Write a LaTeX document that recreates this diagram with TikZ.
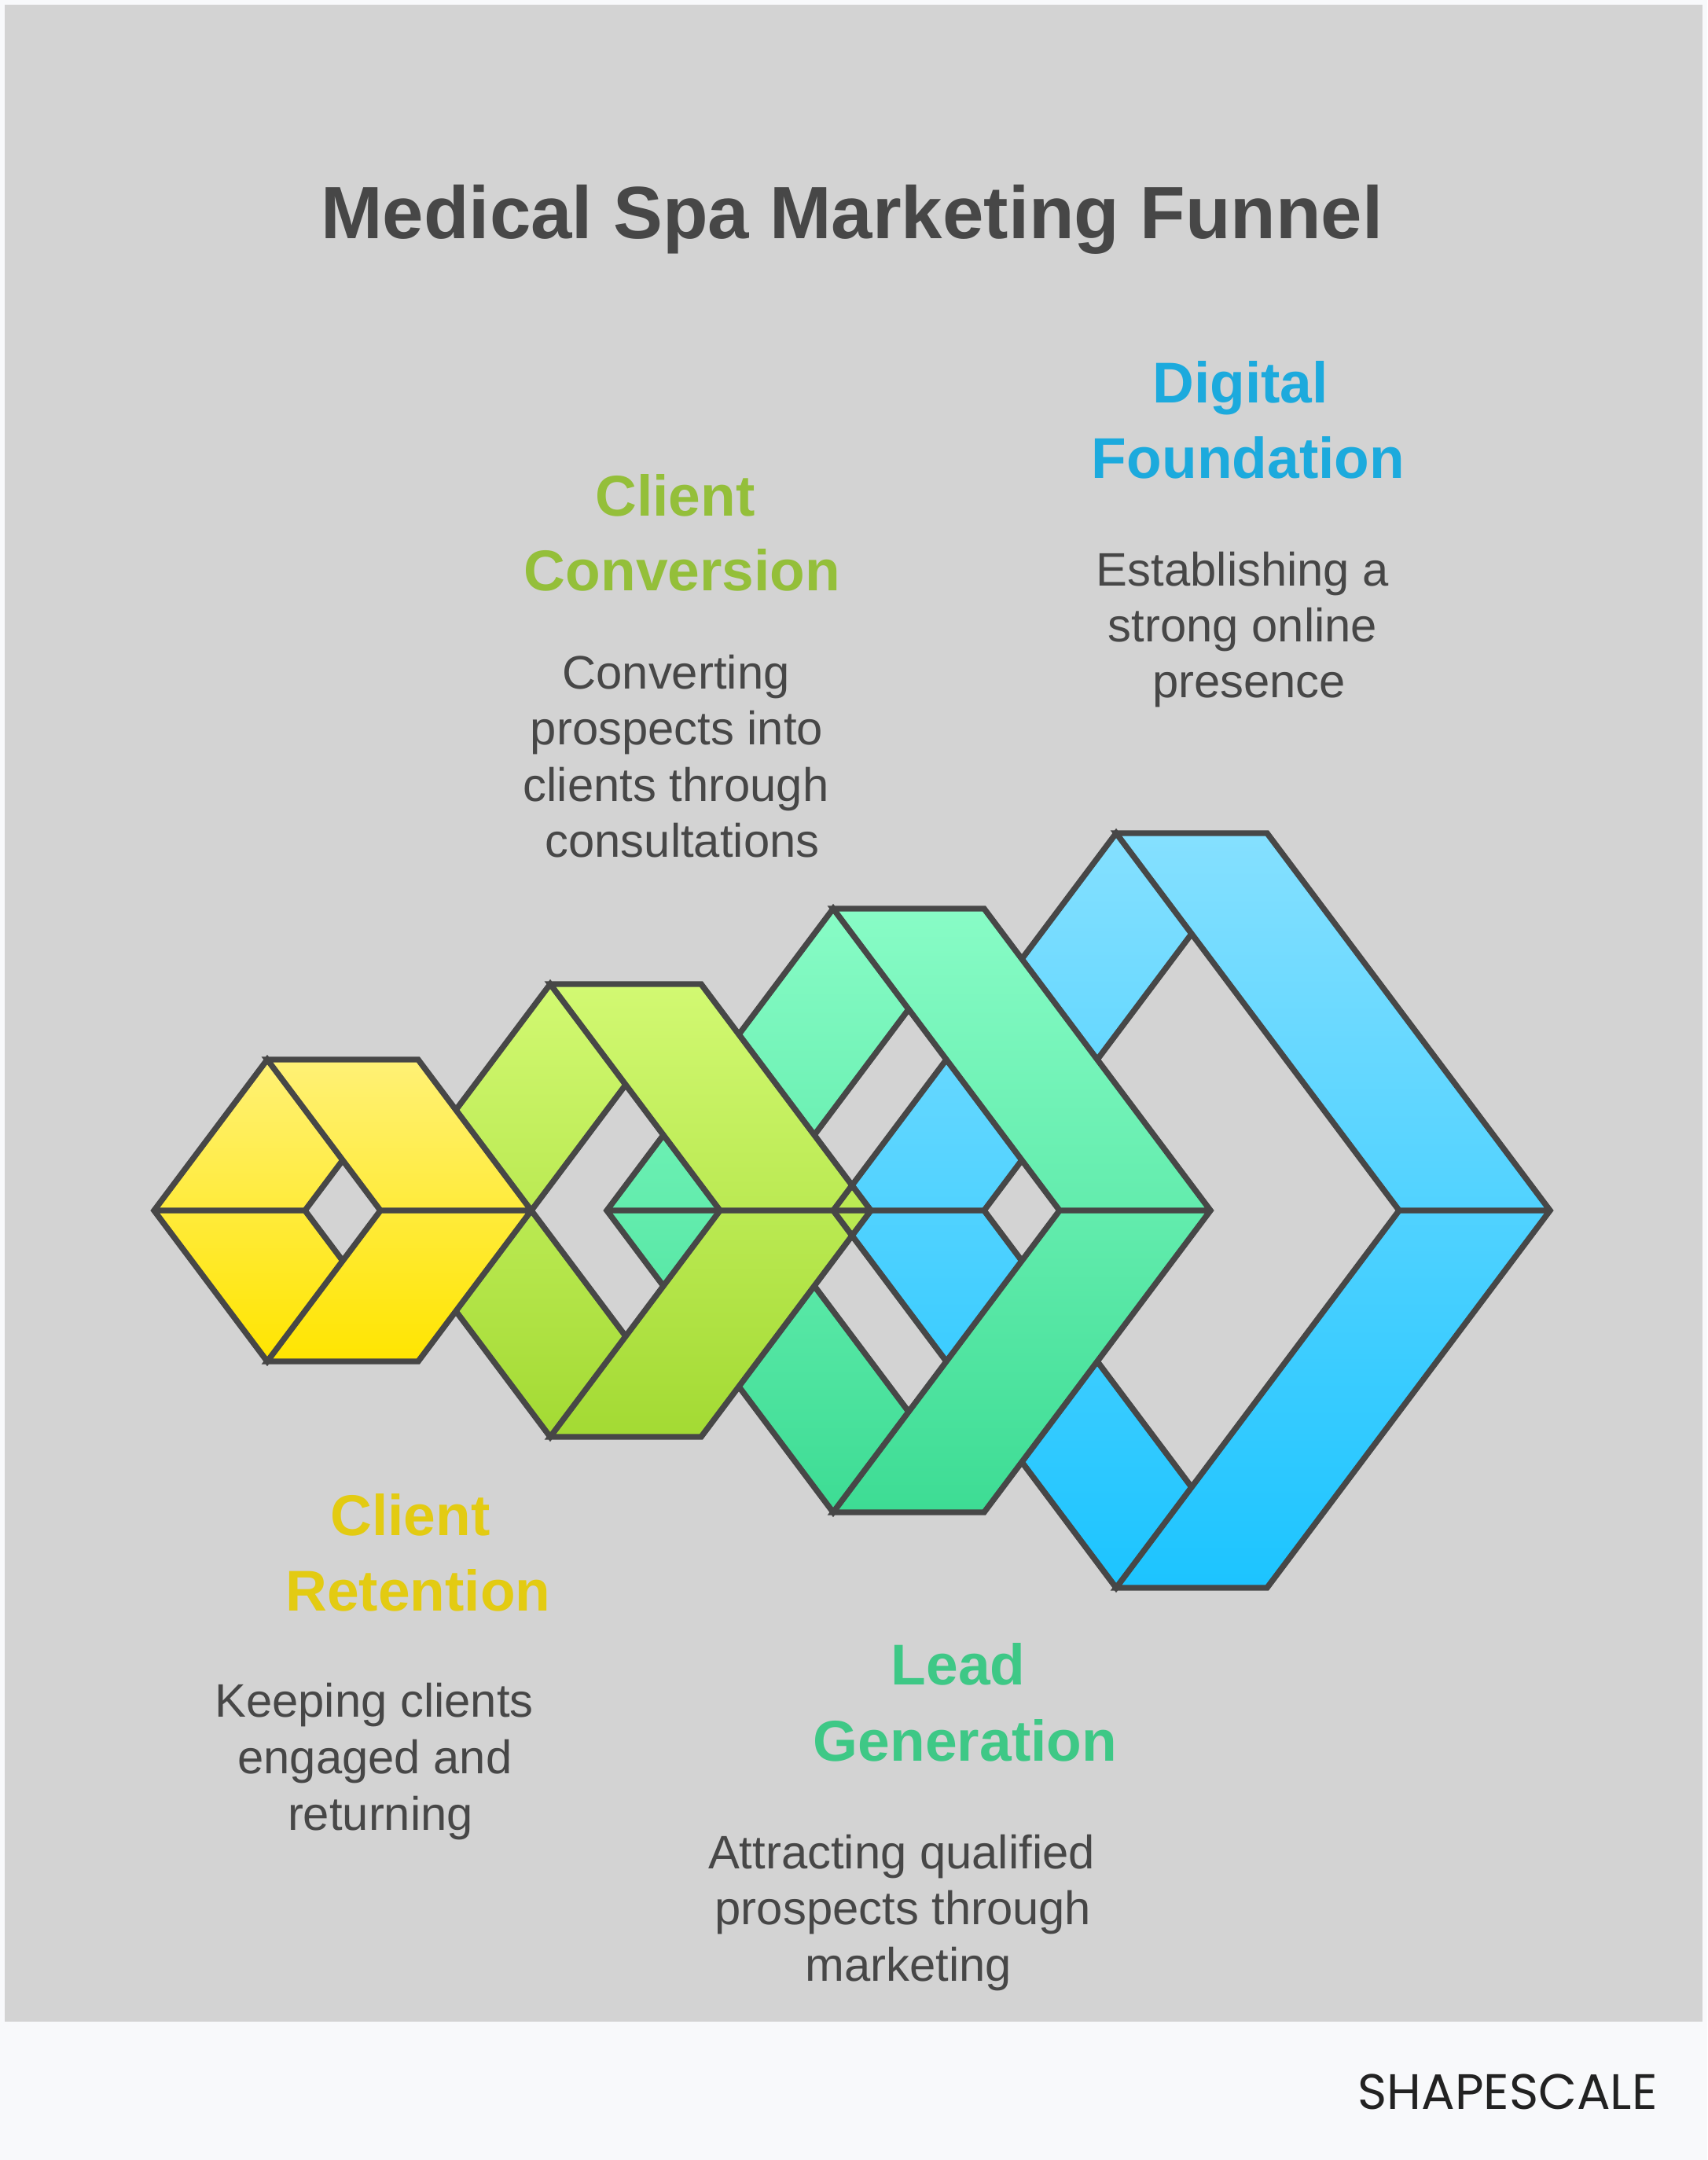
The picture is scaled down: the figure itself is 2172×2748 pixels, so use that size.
\documentclass[tikz,border=0pt]{standalone}
\usepackage{fontspec}
\setmainfont{Liberation Sans}
\newfontfamily\brandfont{Poppins}
\usepackage{tikz}
\definecolor{pagebg}{HTML}{F8F9FB}
\definecolor{panelgray}{HTML}{D3D3D3}
\definecolor{inkgray}{HTML}{474747}
\definecolor{brandink}{HTML}{222222}
\definecolor{yellowtop}{HTML}{FFF176}
\definecolor{yellowbot}{HTML}{FFE500}
\definecolor{limetop}{HTML}{D2F972}
\definecolor{limebot}{HTML}{A3DA33}
\definecolor{tealtop}{HTML}{88FCC6}
\definecolor{tealbot}{HTML}{3DDC94}
\definecolor{bluetop}{HTML}{85E0FF}
\definecolor{bluebot}{HTML}{1CC4FF}
\definecolor{yellowhead}{HTML}{E3CB12}
\definecolor{limehead}{HTML}{94BF3A}
\definecolor{greenhead}{HTML}{3EC886}
\definecolor{bluehead}{HTML}{1CAADD}
\tikzset{
  bandline/.style={draw=inkgray, line width=0.074cm, line join=miter},
  titletext/.style={font=\fontsize{26.8}{32}\selectfont\bfseries, text=inkgray, anchor=base, inner sep=0pt},
  headtext/.style={font=\fontsize{20.8}{25}\selectfont\bfseries, anchor=base, inner sep=0pt},
  bodytext/.style={font=\fontsize{17}{20}\selectfont, text=inkgray, anchor=base, inner sep=0pt},
}

\begin{document}
\begin{tikzpicture}[x=0.01cm, y=-0.01cm]
        \useasboundingbox (0,0) rectangle (2172,2748);
        \fill[pagebg] (0,0) rectangle (2172,2748);
        \fill[panelgray] (6,6) rectangle (2166,2572);

        \shade[top color=bluetop, bottom color=bluebot]
          (1060,1540) -- (1420,1060) -- (1516,1188) -- (1252,1540) -- (1516,1892) -- (1420,2020) -- cycle
          (1420,1060) -- (1612,1060) -- (1972,1540) -- (1612,2020) -- (1420,2020) -- (1780,1540) -- cycle;
        \draw[bandline]
          (1060,1540) -- (1420,1060) -- (1516,1188) -- (1252,1540) -- (1516,1892) -- (1420,2020) -- cycle
          (1420,1060) -- (1612,1060) -- (1972,1540) -- (1612,2020) -- (1420,2020) -- (1780,1540) -- cycle
          (1060,1540) -- (1252,1540) (1780,1540) -- (1972,1540);

        \shade[top color=tealtop, bottom color=tealbot]
          (772,1540) -- (1060,1156) -- (1156,1284) -- (964,1540) -- (1156,1796) -- (1060,1924) -- cycle
          (1060,1156) -- (1252,1156) -- (1540,1540) -- (1252,1924) -- (1060,1924) -- (1348,1540) -- cycle;
        \draw[bandline]
          (772,1540) -- (1060,1156) -- (1156,1284) -- (964,1540) -- (1156,1796) -- (1060,1924) -- cycle
          (1060,1156) -- (1252,1156) -- (1540,1540) -- (1252,1924) -- (1060,1924) -- (1348,1540) -- cycle
          (772,1540) -- (964,1540) (1348,1540) -- (1540,1540);

        \shade[top color=limetop, bottom color=limebot]
          (484,1540) -- (700,1252) -- (796,1380) -- (676,1540) -- (796,1700) -- (700,1828) -- cycle
          (700,1252) -- (892,1252) -- (1108,1540) -- (892,1828) -- (700,1828) -- (916,1540) -- cycle;
        \draw[bandline]
          (484,1540) -- (700,1252) -- (796,1380) -- (676,1540) -- (796,1700) -- (700,1828) -- cycle
          (700,1252) -- (892,1252) -- (1108,1540) -- (892,1828) -- (700,1828) -- (916,1540) -- cycle
          (484,1540) -- (676,1540) (916,1540) -- (1108,1540);

        \shade[top color=yellowtop, bottom color=yellowbot]
          (196,1540) -- (340,1348) -- (436,1476) -- (388,1540) -- (436,1604) -- (340,1732) -- cycle
          (340,1348) -- (532,1348) -- (676,1540) -- (532,1732) -- (340,1732) -- (484,1540) -- cycle;
        \draw[bandline]
          (196,1540) -- (340,1348) -- (436,1476) -- (388,1540) -- (436,1604) -- (340,1732) -- cycle
          (340,1348) -- (532,1348) -- (676,1540) -- (532,1732) -- (340,1732) -- (484,1540) -- cycle
          (196,1540) -- (388,1540) (484,1540) -- (676,1540);

        \coordinate (bluetipA) at (1084,1508);
        \coordinate (bluetipB) at (1084,1572);
        \draw[bandline] (bluetipA) -- (1060,1540) -- (bluetipB);

        \node[titletext] (title) at (1084,303) {Medical Spa Marketing Funnel};

        \node[headtext, text=bluehead] (digitalA) at (1578,512) {Digital};
        \node[headtext, text=bluehead] (digitalB) at (1588,608) {Foundation};
        \node[bodytext] (digitalC) at (1581,745) {Establishing a};
        \node[bodytext] (digitalD) at (1581,816) {strong online};
        \node[bodytext] (digitalE) at (1589,887) {presence};

        \node[headtext, text=limehead] (conversionA) at (859,656) {Client};
        \node[headtext, text=limehead] (conversionB) at (868,751) {Conversion};
        \node[bodytext] (conversionC) at (860,876) {Converting};
        \node[bodytext] (conversionD) at (861,947) {prospects into};
        \node[bodytext] (conversionE) at (860,1019) {clients through};
        \node[bodytext] (conversionF) at (868,1090) {consultations};

        \node[headtext, text=yellowhead] (retentionA) at (522,1953) {Client};
        \node[headtext, text=yellowhead] (retentionB) at (532,2049) {Retention};
        \node[bodytext] (retentionC) at (476,2184) {Keeping clients};
        \node[bodytext] (retentionD) at (477,2256) {engaged and};
        \node[bodytext] (retentionE) at (484,2328) {returning};

        \node[headtext, text=greenhead] (leadA) at (1219,2143) {Lead};
        \node[headtext, text=greenhead] (leadB) at (1228,2240) {Generation};
        \node[bodytext] (leadC) at (1147,2377) {Attracting qualified};
        \node[bodytext] (leadD) at (1149,2448) {prospects through};
        \node[bodytext] (leadE) at (1156,2520) {marketing};

        \node[font=\brandfont\fontsize{18}{22}\selectfont, text=brandink, anchor=base, inner sep=0pt] (brand) at (1918,2683) {SHAPESCALE};
      \end{tikzpicture}
\end{document}
